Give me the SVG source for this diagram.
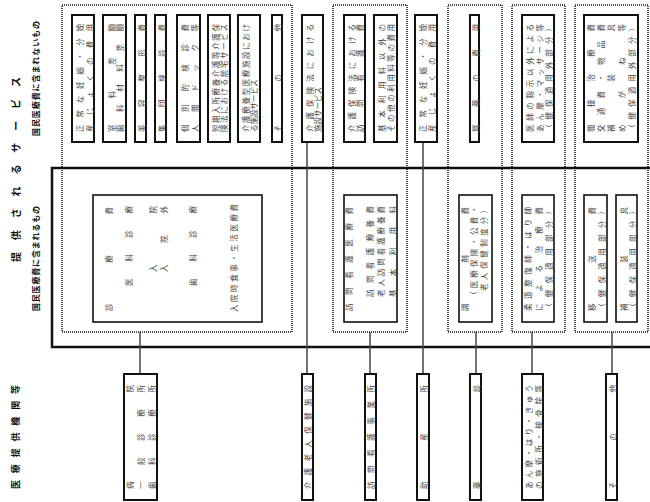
<svg xmlns="http://www.w3.org/2000/svg" width="650" height="502" viewBox="0 0 650 502">
<style>
.t{font-family:"Noto Sans CJK JP","Noto Sans CJK SC",sans-serif;font-size:7.5px;fill:#444;dominant-baseline:central}
.h{font-family:"Noto Sans CJK JP","Noto Sans CJK SC",sans-serif;font-weight:bold;fill:#111;dominant-baseline:central}
.box{fill:#fff;stroke:#111;stroke-width:2}
.ibox{fill:#fff;stroke:#111;stroke-width:1.6}
.dot{fill:none;stroke:#111;stroke-width:1.5;stroke-dasharray:1 1}
.frame{fill:none;stroke:#111;stroke-width:2.5}
.conn line{stroke:#444;stroke-width:1.5}
</style>
<rect width="650" height="502" fill="#fff"/>

<!-- titles -->
<g id="titles">
<text class="h" font-size="10" transform="translate(15,262) rotate(-90)" textLength="185">提供されるサービス</text>
<text class="h" font-size="8" transform="translate(35,136) rotate(-90)" textLength="115">国民医療費に含まれないもの</text>
<text class="h" font-size="8" transform="translate(35,311) rotate(-90)" textLength="105">国民医療費に含まれるもの</text>
<text class="h" font-size="9" transform="translate(15,489) rotate(-90)" textLength="104">医療提供機関等</text>
</g>

<!-- frame of included services -->
<rect class="frame" x="52" y="168" width="610" height="179"/>

<!-- connectors -->
<g id="connectors" class="conn">
<line x1="140" y1="332" x2="140" y2="374"/>
<line x1="307" y1="142" x2="307" y2="374"/>
<line x1="370" y1="332" x2="370" y2="374"/>
<line x1="423" y1="142" x2="423" y2="374"/>
<line x1="476" y1="332" x2="476" y2="374"/>
<line x1="532" y1="332" x2="532" y2="374"/>
<line x1="612" y1="332" x2="612" y2="374"/>
</g>

<!-- hospitals / clinics -->
<g id="clinic">
<rect class="dot" x="62" y="5" width="230" height="327"/>
<rect class="box" x="72" y="15" width="22" height="127"/>
<text class="t" transform="translate(79,132) rotate(-90)" textLength="108">正常な妊娠・分娩</text>
<text class="t" transform="translate(89,132) rotate(-90)" textLength="108">産じょくの費用</text>
<rect class="box" x="103" y="15" width="23" height="127"/>
<text class="t" transform="translate(111,132) rotate(-90)" textLength="108">室料差額</text>
<text class="t" transform="translate(119,132) rotate(-90)" textLength="108">歯科材料差額</text>
<rect class="box" x="135" y="15" width="11" height="127"/>
<text class="t" transform="translate(141,132) rotate(-90)" textLength="108">美容整形費</text>
<rect class="box" x="155" y="15" width="11" height="127"/>
<text class="t" transform="translate(161,132) rotate(-90)" textLength="108">集団検診費</text>
<rect class="box" x="177" y="15" width="23" height="127"/>
<text class="t" transform="translate(184,132) rotate(-90)" textLength="108">個別的検診費</text>
<text class="t" transform="translate(194,132) rotate(-90)" textLength="108">人間ドック等</text>
<rect class="box" x="208" y="15" width="22" height="127"/>
<text class="t" transform="translate(215,132) rotate(-90)" textLength="108">短期入所療養介護等介護保</text>
<text class="t" transform="translate(223,132) rotate(-90)" textLength="108">険法における居宅サービス</text>
<rect class="box" x="238" y="15" width="22" height="127"/>
<text class="t" transform="translate(245,132) rotate(-90)" textLength="108">介護療養型医療施設におけ</text>
<text class="t" transform="translate(253,132) rotate(-90)">る施設サービス</text>
<rect class="box" x="272" y="15" width="10" height="127"/>
<text class="t" transform="translate(277,132) rotate(-90)" textLength="108">その他</text>

<rect class="ibox" x="93" y="195" width="169" height="127"/>
<text class="t" transform="translate(108,311) rotate(-90)" textLength="104">診療費</text>
<text class="t" transform="translate(128,286) rotate(-90)" textLength="80">医科診療</text>
<text class="t" transform="translate(152,272) rotate(-90)" textLength="66">入院</text>
<text class="t" transform="translate(163,272) rotate(-90)" textLength="66">入院外</text>
<text class="t" transform="translate(192,286) rotate(-90)" textLength="80">歯科診療</text>
<text class="t" transform="translate(233,312) rotate(-90)" textLength="108">入院時食事・生活医療費</text>
</g>

<!-- long-term care facility service -->
<g id="care-service">
<rect class="box" x="302" y="15" width="21" height="127"/>
<text class="t" transform="translate(309,132) rotate(-90)" textLength="108">介護保険法における</text>
<text class="t" transform="translate(317,132) rotate(-90)">施設サービス</text>
</g>

<!-- home-visit nursing -->
<g id="visit-nursing">
<rect class="dot" x="333" y="5" width="74" height="327"/>
<rect class="box" x="344" y="15" width="21" height="127"/>
<text class="t" transform="translate(351,132) rotate(-90)" textLength="108">介護保険法における</text>
<text class="t" transform="translate(359,132) rotate(-90)" textLength="108">訪問看護費</text>
<rect class="box" x="374" y="15" width="23" height="127"/>
<text class="t" transform="translate(381,132) rotate(-90)" textLength="108">基本利用料以外の</text>
<text class="t" transform="translate(390,132) rotate(-90)" textLength="108">その他の利用料等の費用</text>
<rect class="ibox" x="344" y="195" width="53" height="127"/>
<text class="t" transform="translate(348,311) rotate(-90)" textLength="104">訪問看護医療費</text>
<text class="t" transform="translate(369,297) rotate(-90)" textLength="91">訪問看護療養費</text>
<text class="t" transform="translate(380,297) rotate(-90)" textLength="91">老人訪問看護療養費</text>
<text class="t" transform="translate(392,297) rotate(-90)" textLength="91">基本利用料</text>
</g>

<!-- midwifery -->
<g id="midwife-service">
<rect class="box" x="415" y="15" width="22" height="127"/>
<text class="t" transform="translate(422,132) rotate(-90)" textLength="108">正常な妊娠・分娩</text>
<text class="t" transform="translate(431,132) rotate(-90)" textLength="108">産じょくの費用</text>
</g>

<!-- pharmacy -->
<g id="pharmacy-service">
<rect class="dot" x="448" y="5" width="54" height="327"/>
<rect class="box" x="470" y="15" width="9" height="127"/>
<text class="t" transform="translate(475,132) rotate(-90)" textLength="108">買薬の費用</text>
<rect class="ibox" x="459" y="195" width="33" height="127"/>
<text class="t" transform="translate(464,311) rotate(-90)" textLength="104">調剤費</text>
<text class="t" transform="translate(473,299) rotate(-90)" textLength="93">（医療保険・公費・</text>
<text class="t" transform="translate(483,291) rotate(-90)" textLength="85">老人保健制度分）</text>
</g>

<!-- massage etc. -->
<g id="massage-service">
<rect class="dot" x="512" y="5" width="53" height="327"/>
<rect class="box" x="522" y="15" width="32" height="127"/>
<text class="t" transform="translate(529,132) rotate(-90)" textLength="108">医師の指示以外による</text>
<text class="t" transform="translate(539,132) rotate(-90)" textLength="108">あん摩・マッサージ等</text>
<text class="t" transform="translate(548,132) rotate(-90)" textLength="108">（健保適用外部分）</text>
<rect class="ibox" x="522" y="195" width="32" height="127"/>
<text class="t" transform="translate(527,311) rotate(-90)" textLength="104">柔道整復師・はり師</text>
<text class="t" transform="translate(538,311) rotate(-90)" textLength="104">による治療費</text>
<text class="t" transform="translate(548,311) rotate(-90)" textLength="104">（健保適用部分）</text>
</g>

<!-- others -->
<g id="other-service">
<rect class="dot" x="575" y="5" width="73" height="327"/>
<rect class="box" x="584" y="15" width="54" height="127"/>
<text class="t" transform="translate(590,132) rotate(-90)" textLength="108">間接治療費</text>
<text class="t" transform="translate(600,132) rotate(-90)" textLength="108">交通費・物品費</text>
<text class="t" transform="translate(610,132) rotate(-90)" textLength="108">補装具</text>
<text class="t" transform="translate(621,132) rotate(-90)" textLength="108">めがね等</text>
<text class="t" transform="translate(631,132) rotate(-90)" textLength="108">（健保適用外部分）</text>
<rect class="ibox" x="584" y="195" width="23" height="127"/>
<text class="t" transform="translate(591,311) rotate(-90)" textLength="104">移送費</text>
<text class="t" transform="translate(601,311) rotate(-90)" textLength="104">（健保適用部分）</text>
<rect class="ibox" x="616" y="195" width="21" height="127"/>
<text class="t" transform="translate(623,311) rotate(-90)" textLength="104">補装具</text>
<text class="t" transform="translate(632,311) rotate(-90)" textLength="104">（健保適用部分）</text>
</g>

<!-- providers -->
<g id="prov-clinic">
<rect class="box" x="124" y="374" width="33" height="126"/>
<text class="t" transform="translate(129,489) rotate(-90)" textLength="104">病院</text>
<text class="t" transform="translate(140,489) rotate(-90)" textLength="104">一般診療所</text>
<text class="t" transform="translate(151,489) rotate(-90)" textLength="104">歯科診療所</text>
</g>
<g id="prov-care">
<rect class="box" x="302" y="374" width="11" height="126"/>
<text class="t" transform="translate(307,489) rotate(-90)" textLength="104">介護老人保健施設</text>
</g>
<g id="prov-visit">
<rect class="box" x="365" y="374" width="11" height="126"/>
<text class="t" transform="translate(370,489) rotate(-90)" textLength="104">訪問看護事業所</text>
</g>
<g id="prov-midwife">
<rect class="box" x="417" y="374" width="12" height="126"/>
<text class="t" transform="translate(423,489) rotate(-90)" textLength="104">助産所</text>
</g>
<g id="prov-pharmacy">
<rect class="box" x="470" y="374" width="11" height="126"/>
<text class="t" transform="translate(476,489) rotate(-90)" textLength="104">薬局</text>
</g>
<g id="prov-massage">
<rect class="box" x="522" y="374" width="21" height="126"/>
<text class="t" transform="translate(528,489) rotate(-90)" textLength="104">あん摩・はり・きゅう</text>
<text class="t" transform="translate(538,489) rotate(-90)" textLength="104">の施術所・接骨院等</text>
</g>
<g id="prov-other">
<rect class="box" x="606" y="374" width="11" height="126"/>
<text class="t" transform="translate(612,489) rotate(-90)" textLength="104">その他</text>
</g>
</svg>
